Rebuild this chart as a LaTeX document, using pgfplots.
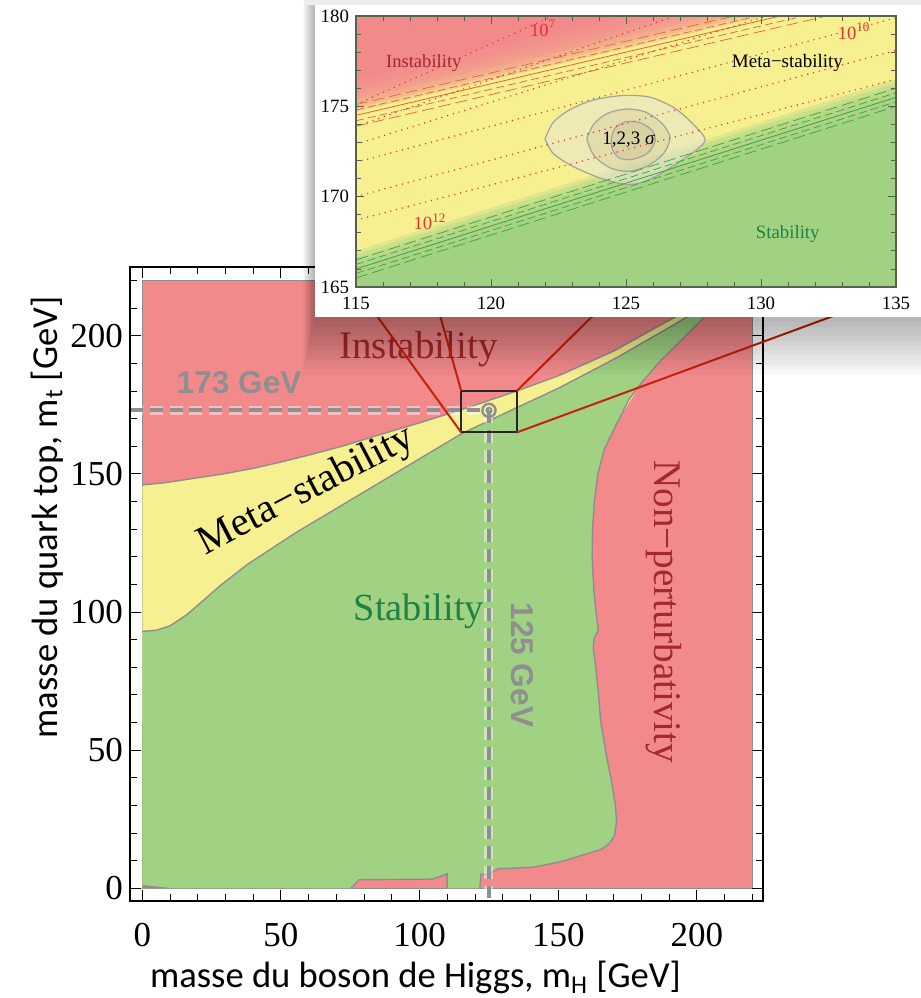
\documentclass[border=0pt]{standalone}
\usepackage{pgfplots}
\pgfplotsset{compat=1.18}
\usepackage{fontspec}
\setmainfont{Liberation Serif}
\newfontfamily\calibri{Carlito}
\newfontfamily\arialf{Liberation Sans}
\definecolor{cRed}{HTML}{F28A8C}
\definecolor{cGreen}{HTML}{A1D283}
\definecolor{cYellow}{HTML}{F7F090}
\definecolor{cBorder}{HTML}{8E8E8E}
\definecolor{cInstTxt}{HTML}{A3282F}
\definecolor{cStabTxt}{HTML}{1E8242}
\definecolor{cDash}{HTML}{8F8F8F}
\definecolor{cPurple}{HTML}{7030A0}
\definecolor{cLink}{HTML}{C8200E}
\definecolor{cFrameIn}{HTML}{55634A}
\definecolor{cDot}{HTML}{E8322B}
\definecolor{cRedLine}{HTML}{E9603A}
\definecolor{cGreenLine}{HTML}{3DA046}
\definecolor{cEllOut}{HTML}{E8E6D0}
\definecolor{cEllIn}{HTML}{A09870}
\definecolor{cEllLine}{HTML}{A3A39C}
\begin{document}
\begin{tikzpicture}[x=1pt,y=1pt]
\path[use as bounding box] (0,0) rectangle (460.5,499);
% ---------------- main plot ----------------
\begin{axis}[name=main, at={(65pt,48.5pt)}, anchor=south west,
  scale only axis, width=316.5pt, height=317pt,
  xmin=-4.43, xmax=223.8, ymin=-4.6, ymax=224.9,
  xtick={0,50,100,150,200}, ytick={0,50,100,150,200},
  minor xtick={10,20,...,220}, minor ytick={10,20,...,220},
  major tick length=5.5pt, minor tick length=3.5pt,
  tick style={black, line width=0.5pt},
  axis line style={black, line width=0.6pt},
  axis on top,
  /pgf/number format/assume math mode=true,
  tick label style={font=\fontsize{17.5}{18}\selectfont},
  xticklabel style={yshift=-7.5pt},
  xlabel={masse du boson de Higgs, m\textsubscript{H} [GeV]},
  ylabel={masse du quark top, m\textsubscript{t} [GeV]},
  label style={font=\calibri\fontsize{18.3}{20}\selectfont},
  xlabel style={at={(axis description cs:0.451,-0.137)}, anchor=base},
  ylabel style={at={(axis description cs:-0.115,0.605)}, anchor=base},
]
% background: instability / non-perturbativity
\addplot[fill=cRed, draw=cBorder, line width=0.6pt] coordinates {(0,0) (220,0) (220,220) (0,220)} -- cycle;
% meta-stability
\addplot[fill=cYellow, draw=none] coordinates {(0,93) (0,146) (8,146.8) (16,148) (28,149.8) (40,152) (50,154.3) (60,156.8) (72,160) (85,164) (100,168.5) (115,173.2) (125,176.6) (135,180) (150,185.5) (170,194.5) (187,204) (200,211) (212,220) (206,212) (201.5,205.5) (194,198) (187,191.2) (180,183) (172.5,171) (170,168) (166.5,162) (163,152) (160,140) (0,60)} -- cycle;
% stability
\addplot[fill=cGreen, draw=none] coordinates {(0,0) (75.2,0) (78.2,3.1) (104.7,3.3) (109.9,5.2) (109.9,0) (121.7,0) (122.1,5) (125.3,5.3) (128.3,7.1) (134,7.3) (141.5,7.7) (150.4,9.5) (158,11.8) (165.3,14) (168.2,16) (170.2,18.8) (171,24) (170.6,30) (169,39.5) (167,50) (165.3,60.2) (164.5,70) (163.5,80) (162.6,87) (162.9,90.5) (164.4,93.3) (163.6,100) (162.8,108) (162.2,120) (162.3,129) (163,140) (164.2,149.8) (166.6,159) (169.5,165) (172.5,171) (175.5,177) (180,183) (187,191.2) (194,198) (201.5,205.5) (206,212) (212,220) (205,212) (190,203) (170,191.5) (150,181) (135,174) (115,164.5) (100,155.5) (85,146.5) (70,137.5) (55,128.5) (38,117.3) (28,109.5) (22,104.2) (16,99) (10,95) (5,93.4) (0,93)} -- cycle;
\addplot[fill=cBorder, draw=none] coordinates {(0,0) (11,0) (0,1.2)} -- cycle;
% boundaries
\addplot[cBorder, line width=0.7pt] coordinates {(0,146) (8,146.8) (16,148) (28,149.8) (40,152) (50,154.3) (60,156.8) (72,160) (85,164) (100,168.5) (115,173.2) (125,176.6) (135,180) (150,185.5) (170,194.5) (187,204) (200,211) (212,220)};
\addplot[cBorder, line width=0.7pt] coordinates {(0,93) (5,93.4) (10,95) (16,99) (22,104.2) (28,109.5) (38,117.3) (55,128.5) (70,137.5) (85,146.5) (100,155.5) (115,164.5) (135,174) (150,181) (170,191.5) (190,203) (205,212) (212,220)};
\addplot[cBorder, line width=0.7pt] coordinates {(121.7,0) (122.1,5) (125.3,5.3) (128.3,7.1) (134,7.3) (141.5,7.7) (150.4,9.5) (158,11.8) (165.3,14) (168.2,16) (170.2,18.8) (171,24) (170.6,30) (169,39.5) (167,50) (165.3,60.2) (164.5,70) (163.5,80) (162.6,87) (162.9,90.5) (164.4,93.3) (163.6,100) (162.8,108) (162.2,120) (162.3,129) (163,140) (164.2,149.8) (166.6,159) (169.5,165) (172.5,171) (175.5,177) (180,183) (187,191.2) (194,198) (201.5,205.5) (206,212) (212,220)};
\addplot[cBorder, line width=0.7pt] coordinates {(75.2,0) (78.2,3.1) (104.7,3.3) (109.9,5.2) (109.9,0)};
% region labels
\node[font=\fontsize{19.5}{20}\selectfont, text=cInstTxt] at (axis cs:99.6,195.3) {Instability};
\node[font=\fontsize{20.3}{21}\selectfont, rotate=27.6] at (axis cs:59.2,143.6) {Meta−stability};
\node[font=\fontsize{19.2}{20}\selectfont, text=cStabTxt] at (axis cs:99.7,100.1) {Stability};
\node[font=\fontsize{19.6}{20}\selectfont, text=cInstTxt, rotate=-90] at (axis cs:188.1,100.1) {Non−perturbativity};
% measured values
\addplot[cDash, line width=2pt, dash pattern=on 6.5pt off 3.4pt,
  preaction={draw=white, draw opacity=0.45, line width=4.5pt, dash pattern=on 6.5pt off 3.4pt}]
  coordinates {(-4.43,173) (125,173)};
\addplot[cDash, line width=2pt, dash pattern=on 6.5pt off 3.4pt,
  preaction={draw=white, draw opacity=0.45, line width=4.5pt, dash pattern=on 6.5pt off 3.4pt}]
  coordinates {(125,173) (125,-3.5)};
\addplot[only marks, mark=o, mark size=3.3pt, cDash, mark options={line width=1.2pt}] coordinates {(125,173)};
\addplot[only marks, mark=o, mark size=1.4pt, cDash, mark options={line width=0.8pt}] coordinates {(125,173)};
\node[font=\arialf\bfseries\fontsize{15.8}{16}\selectfont, text=cDash] at (axis cs:34.9,182.9) {173 GeV};
\node[font=\arialf\bfseries\fontsize{15.8}{16}\selectfont, text=cDash, rotate=-90] at (axis cs:136.9,80.9) {125 GeV};
% zoom box
\addplot[black!85, line width=1pt] coordinates {(115,165) (135,165) (135,180) (115,180)} -- cycle;
\coordinate (bBL) at (axis cs:115,165);
\coordinate (bTL) at (axis cs:115,180);
\coordinate (bTR) at (axis cs:135,180);
\coordinate (bBR) at (axis cs:135,165);
\node[font=\calibri\fontsize{14.7}{15}\selectfont, text=cPurple, rotate=-90] at (axis description cs:1.0277,0.61) {G. Degrassi et al.};
\end{axis}
% connector lines
\draw[cLink, line width=1pt] (bBL) -- (178,355.5);
\draw[cLink, line width=1pt] (bTL) -- (178,491);
\draw[cLink, line width=1pt] (bTR) -- (448,491);
\draw[cLink, line width=1pt] (bBR) -- (456,355.5);
% shadow of the inset panel
\foreach \k in {1,...,12} {
  \fill[black, opacity=0.028] (157.5-0.5*\k, 340.5-2.4*\k) rectangle (470, 496.5);
}
\fill[black, opacity=0.07] (152,496.5) rectangle (470,499);
\fill[white] (157.5,340.5) rectangle (470,496.5);
% ---------------- inset ----------------
\begin{axis}[name=inset, at={(178pt,355.5pt)}, anchor=south west,
  scale only axis, width=270pt, height=135.5pt,
  xmin=115, xmax=135, ymin=165, ymax=180,
  xtick={115,120,125,130,135}, ytick={165,170,175,180},
  minor tick num=4,
  major tick length=4pt, minor tick length=2.3pt,
  tick style={cFrameIn, line width=0.4pt},
  axis line style={cFrameIn, line width=0.6pt},
  axis background/.style={fill=cYellow},
  axis on top,
  /pgf/number format/assume math mode=true,
  /pgf/number format/1000 sep={},
  tick label style={font=\fontsize{9.4}{10}\selectfont},
  xticklabel style={yshift=-1.5pt},
]
% red (instability) fading
\addplot[fill=cRed, fill opacity=0.3, draw=none] coordinates {(115,174.7) (135,181.7) (135,190) (115,190)} -- cycle;
\addplot[fill=cRed, fill opacity=0.3, draw=none] coordinates {(115,174.925) (135,181.925) (135,190) (115,190)} -- cycle;
\addplot[fill=cRed, fill opacity=0.3, draw=none] coordinates {(115,175.15) (135,182.15) (135,190) (115,190)} -- cycle;
\addplot[fill=cRed, fill opacity=0.3, draw=none] coordinates {(115,175.375) (135,182.375) (135,190) (115,190)} -- cycle;
\addplot[fill=cRed, fill opacity=0.3, draw=none] coordinates {(115,175.6) (135,182.6) (135,190) (115,190)} -- cycle;
\addplot[fill=cRed, fill opacity=0.3, draw=none] coordinates {(115,175.825) (135,182.825) (135,190) (115,190)} -- cycle;
\addplot[fill=cRed, fill opacity=0.3, draw=none] coordinates {(115,176.05) (135,183.05) (135,190) (115,190)} -- cycle;
\addplot[fill=cRed, fill opacity=0.3, draw=none] coordinates {(115,176.275) (135,183.275) (135,190) (115,190)} -- cycle;
\addplot[fill=cRed, draw=none] coordinates {(115,176.5) (135,183.5) (135,190) (115,190)} -- cycle;
% green (stability) fading
\addplot[fill=cGreen, fill opacity=0.3, draw=none] coordinates {(115,167.0) (135,176.5) (135,160) (115,160)} -- cycle;
\addplot[fill=cGreen, fill opacity=0.3, draw=none] coordinates {(115,166.8) (135,176.3) (135,160) (115,160)} -- cycle;
\addplot[fill=cGreen, fill opacity=0.3, draw=none] coordinates {(115,166.6) (135,176.1) (135,160) (115,160)} -- cycle;
\addplot[fill=cGreen, fill opacity=0.3, draw=none] coordinates {(115,166.4) (135,175.9) (135,160) (115,160)} -- cycle;
\addplot[fill=cGreen, fill opacity=0.3, draw=none] coordinates {(115,166.2) (135,175.7) (135,160) (115,160)} -- cycle;
\addplot[fill=cGreen, fill opacity=0.3, draw=none] coordinates {(115,166.0) (135,175.5) (135,160) (115,160)} -- cycle;
\addplot[fill=cGreen, fill opacity=0.3, draw=none] coordinates {(115,165.8) (135,175.3) (135,160) (115,160)} -- cycle;
\addplot[fill=cGreen, draw=none] coordinates {(115,165.6) (135,175.1) (135,160) (115,160)} -- cycle;
% 1,2,3 sigma regions
\addplot[fill=cEllOut, fill opacity=0.6, draw=cEllLine, line width=0.6pt, smooth] coordinates {(122.0,173.2) (122.3,174.1) (122.9,174.8) (123.8,175.35) (124.9,175.6) (125.9,175.5) (126.8,174.9) (127.5,174.0) (127.93,173.2) (127.7,172.7) (127.1,172.05) (126.2,171.2) (125.5,170.75) (124.9,170.7) (124.0,171.05) (123.0,171.7) (122.3,172.4) (122.0,173.2)};
\addplot[fill=cEllIn, fill opacity=0.15, draw=cEllLine, line width=0.6pt, smooth] coordinates {(123.55,173.2) (123.8,174.0) (124.3,174.6) (125.0,174.85) (125.7,174.7) (126.3,174.1) (126.63,173.3) (126.4,172.4) (125.8,171.7) (125.1,171.4) (124.4,171.6) (123.8,172.3) (123.55,173.2)};
\addplot[fill=cEllIn, fill opacity=0.15, draw=cEllLine, line width=0.6pt, smooth] coordinates {(124.45,173.2) (124.6,173.8) (125.0,174.15) (125.5,174.1) (125.95,173.7) (126.08,173.1) (125.8,172.4) (125.2,172.05) (124.75,172.15) (124.5,172.6) (124.45,173.2)};
% instability boundary lines
\addplot[cRedLine, line width=0.4pt] coordinates {(115,174.5) (135,181.5)};
\addplot[cRedLine, line width=0.35pt, dash pattern=on 4pt off 2pt] coordinates {(115,174.8) (135,181.8)};
\addplot[cRedLine, line width=0.35pt, dash pattern=on 6pt off 2.5pt] coordinates {(115,175.1) (135,182.1)};
\addplot[cRedLine, line width=0.35pt, dash pattern=on 4pt off 2pt] coordinates {(115,174.2) (135,181.2)};
\addplot[cRedLine, line width=0.35pt, dash pattern=on 6pt off 2.5pt] coordinates {(115,173.9) (135,180.9)};
% stability boundary lines
\addplot[cGreenLine, line width=0.4pt] coordinates {(115,166.0) (135,175.5)};
\addplot[cGreenLine, line width=0.35pt, dash pattern=on 4pt off 2pt] coordinates {(115,166.25) (135,175.75)};
\addplot[cGreenLine, line width=0.35pt, dash pattern=on 6pt off 2.5pt] coordinates {(115,166.5) (135,176.0)};
\addplot[cGreenLine, line width=0.35pt, dash pattern=on 4pt off 2pt] coordinates {(115,165.75) (135,175.25)};
\addplot[cGreenLine, line width=0.35pt, dash pattern=on 6pt off 2.5pt] coordinates {(115,165.5) (135,175.0)};
% instability-scale contours
\addplot[cDot, line width=0.8pt, line cap=round, dash pattern=on 0pt off 3pt] coordinates {(115,175.1) (122.3,180)};
\addplot[cDot, line width=0.8pt, line cap=round, dash pattern=on 0pt off 3pt] coordinates {(115,173.9) (126.8,180)};
\addplot[cDot, line width=0.8pt, line cap=round, dash pattern=on 0pt off 3pt] coordinates {(115,172.9) (130.2,180)};
\addplot[cDot, line width=0.8pt, line cap=round, dash pattern=on 0pt off 3pt] coordinates {(115,171.9) (135,179.9)};
\addplot[cDot, line width=0.8pt, line cap=round, dash pattern=on 0pt off 3pt] coordinates {(115,170.0) (135,178.1)};
\addplot[cDot, line width=0.8pt, line cap=round, dash pattern=on 0pt off 3pt] coordinates {(115,168.7) (135,176.5)};
% labels
\node[font=\fontsize{9.3}{10}\selectfont, text=cInstTxt] at (axis cs:117.51,177.41) {Instability};
\node[font=\fontsize{9.5}{10}\selectfont] at (axis cs:130.98,177.41) {Meta−stability};
\node[font=\fontsize{9.4}{10}\selectfont, text=cStabTxt] at (axis cs:130.99,167.94) {Stability};
\node[font=\fontsize{9.5}{10}\selectfont] at (axis cs:125.10,173.13) {1,2,3 \textit{σ}};
\node[font=\fontsize{9.3}{10}\selectfont, text=cDot] at (axis cs:121.93,179.32) {10\textsuperscript{7}};
\node[font=\fontsize{9.3}{10}\selectfont, text=cDot] at (axis cs:133.45,179.15) {10\textsuperscript{10}};
\node[font=\fontsize{9.3}{10}\selectfont, text=cDot] at (axis cs:117.74,168.6) {10\textsuperscript{12}};
\end{axis}
\end{tikzpicture}
\end{document}
